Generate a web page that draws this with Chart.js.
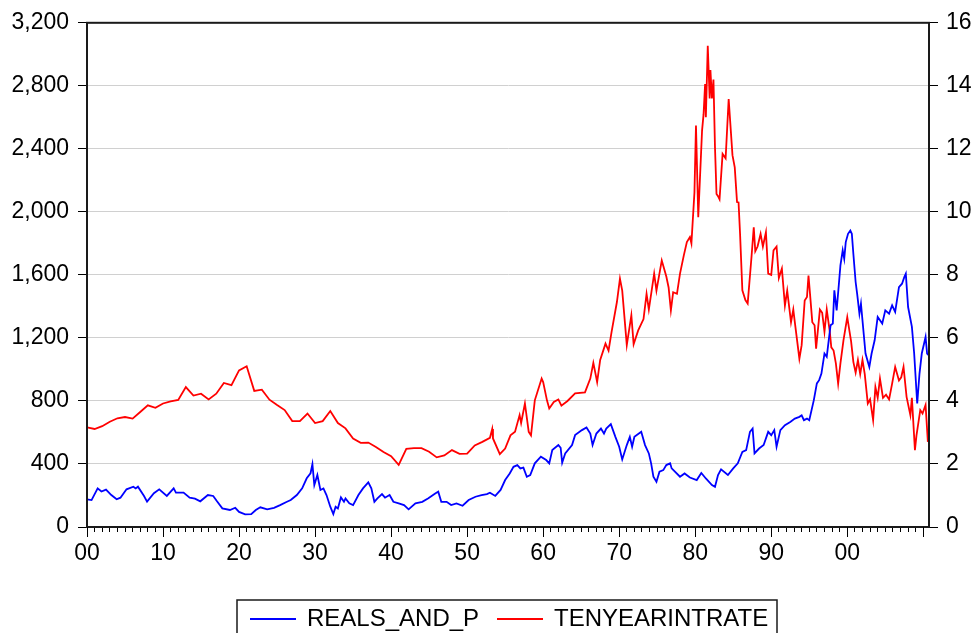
<!DOCTYPE html>
<html>
<head>
<meta charset="utf-8">
<title>REALS_AND_P and TENYEARINTRATE</title>
<script src="https://cdn.jsdelivr.net/npm/chart.js@4.4.1/dist/chart.umd.min.js"></script>
<style>
  body { margin: 0; background: #fff; }
</style>
</head>
<body>
<canvas id="myChart" width="975" height="633"></canvas>
<script>
// series (year as decimal)
var realYears = [1900.0, 1900.6, 1901.4, 1901.9, 1902.5, 1903.2, 1903.9, 1904.4, 1905.2, 1906.1, 1906.4, 1906.7, 1907.5, 1907.9, 1908.8, 1909.5,
  1910.5, 1911.4, 1911.7, 1912.7, 1913.5, 1914.2, 1914.9, 1915.9, 1916.6, 1917.1, 1917.8, 1918.8, 1919.5, 1920.0, 1920.8, 1921.6,
  1922.2, 1922.8, 1923.7, 1924.6, 1925.4, 1926.3, 1926.8, 1927.6, 1928.3, 1928.9, 1929.4, 1929.65, 1929.9, 1930.3, 1930.7, 1931.1,
  1931.5, 1932.0, 1932.4, 1932.7, 1933.0, 1933.4, 1933.8, 1934.0, 1934.5, 1935.0, 1935.7, 1936.3, 1937.0, 1937.4, 1937.8, 1938.2,
  1938.8, 1939.2, 1939.8, 1940.3, 1941.0, 1941.7, 1942.3, 1943.2, 1944.1, 1944.9, 1945.8, 1946.2, 1946.6, 1947.3, 1947.9, 1948.6,
  1949.4, 1950.2, 1951.1, 1951.9, 1952.6, 1953.0, 1953.7, 1954.4, 1955.0, 1955.6, 1956.1, 1956.6, 1957.0, 1957.4, 1957.85, 1958.3,
  1958.9, 1959.7, 1960.4, 1960.8, 1961.2, 1962.0, 1962.3, 1962.5, 1962.9, 1963.8, 1964.2, 1965.1, 1965.7, 1966.2, 1966.5, 1967.0,
  1967.6, 1968.0, 1968.3, 1968.9, 1969.5, 1970.0, 1970.4, 1971.0, 1971.4, 1971.7, 1972.0, 1972.9, 1973.4, 1973.9, 1974.2, 1974.5,
  1974.9, 1975.3, 1975.8, 1976.2, 1976.7, 1976.9, 1978.0, 1978.6, 1979.3, 1980.2, 1980.8, 1981.4, 1982.2, 1982.6, 1983.0, 1983.4,
  1984.3, 1985.0, 1985.6, 1986.2, 1986.7, 1987.2, 1987.55, 1987.8, 1988.4, 1989.0, 1989.6, 1990.0, 1990.4, 1990.7, 1991.2, 1991.8,
  1992.5, 1993.1, 1993.7, 1994.0, 1994.3, 1994.7, 1995.0, 1995.6, 1996.0, 1996.3, 1996.6, 1997.0, 1997.3, 1997.8, 1998.1, 1998.3,
  1998.6, 1998.9, 1999.1, 1999.4, 1999.6, 1999.8, 2000.1, 2000.4, 2000.6, 2000.8, 2001.1, 2001.3, 2001.6, 2001.8, 2002.4, 2002.9,
  2003.2, 2003.6, 2004.0, 2004.6, 2005.0, 2005.5, 2005.9, 2006.3, 2006.8, 2007.2, 2007.5, 2007.7, 2008.0, 2008.5, 2008.8, 2009.2,
  2009.5, 2009.8, 2010.3, 2010.5, 2010.7];
var realValues = [176, 171, 245, 225, 237, 203, 176, 186, 239, 256, 245, 256, 197, 161, 214, 239,
  197, 245, 218, 218, 186, 180, 163, 203, 197, 163, 118, 108, 122, 96, 80, 82,
  108, 125, 112, 122, 139, 160, 171, 203, 245, 309, 341, 399, 266, 330, 235, 245,
  203, 129, 82, 129, 118, 188, 160, 181, 150, 139, 203, 245, 283, 245, 160, 182,
  209, 186, 203, 160, 150, 139, 112, 150, 160, 182, 213, 224, 160, 160, 139, 150,
  135, 171, 192, 203, 209, 218, 197, 235, 298, 340, 382, 393, 372, 377, 319, 329,
  404, 446, 425, 404, 488, 520, 503, 408, 467, 520, 583, 615, 632, 593, 520, 593,
  625, 593, 625, 653, 572, 509, 429, 520, 572, 509, 572, 604, 520, 467, 404, 319,
  287, 351, 361, 393, 404, 372, 319, 340, 314, 298, 343, 308, 266, 255, 330, 366,
  330, 372, 404, 477, 488, 604, 625, 467, 498, 520, 604, 583, 615, 509, 615, 646,
  667, 688, 699, 709, 678, 688, 678, 805, 911, 932, 974, 1101, 1080, 1280, 1291, 1502,
  1375, 1544, 1660, 1756, 1702, 1808, 1861, 1882, 1861, 1734, 1555, 1480, 1354, 1417, 1101, 1016,
  1101, 1185, 1333, 1291, 1375, 1354, 1407, 1365, 1523, 1544, 1586, 1608, 1396, 1270, 1101, 784,
  974, 1101, 1206, 1101, 1090];

var rateYears = [1900, 1901, 1902, 1903, 1904, 1905, 1906, 1907, 1908, 1909, 1910, 1911, 1912, 1913, 1914, 1915,
  1916, 1917, 1918, 1919, 1920, 1921, 1922, 1923, 1924, 1925, 1926, 1927, 1928, 1929, 1930, 1931,
  1932, 1933, 1934, 1935, 1936, 1937, 1938, 1939, 1940, 1941, 1942, 1943, 1944, 1945, 1946, 1947,
  1948, 1949, 1950, 1951, 1952, 1953, 1953.3, 1953.4, 1954.3, 1955.0, 1955.7, 1956.3, 1956.9, 1957.1,
  1957.6, 1958.1, 1958.4, 1958.9, 1959.8, 1960.0, 1960.5, 1960.8, 1961.4, 1962.0, 1962.4, 1963.2, 1964.2, 1965.5,
  1966.2, 1966.6, 1967.1, 1967.5, 1968.2, 1968.6, 1969.0, 1969.7, 1970.1, 1970.4, 1971.0, 1971.6, 1971.9, 1972.5,
  1973.2, 1973.6, 1973.9, 1974.6, 1974.9, 1975.6, 1976.2, 1976.5, 1976.8, 1977.1, 1977.6, 1978.0, 1978.5, 1978.9,
  1979.3, 1979.5, 1979.9, 1980.1, 1980.4, 1980.9, 1981.1, 1981.3, 1981.4, 1981.65, 1981.9, 1982.0, 1982.2, 1982.4,
  1982.6, 1982.8, 1983.0, 1983.2, 1983.6, 1984.0, 1984.4, 1984.9, 1985.2, 1985.5, 1985.7, 1985.9, 1986.2, 1986.6,
  1986.9, 1987.4, 1987.7, 1987.9, 1988.2, 1988.6, 1988.9, 1989.3, 1989.6, 1990.0, 1990.3, 1990.7, 1991.0, 1991.4,
  1991.8, 1992.1, 1992.6, 1992.9, 1993.1, 1993.7, 1994.0, 1994.4, 1994.7, 1994.9, 1995.1, 1995.4, 1995.7, 1995.9,
  1996.4, 1996.7, 1997.0, 1997.3, 1997.7, 1997.9, 1998.2, 1998.5, 1998.8, 1999.1, 1999.5, 2000.0, 2000.3, 2000.5,
  2000.8, 2001.1, 2001.4, 2001.7, 2002.0, 2002.3, 2002.7, 2003.0, 2003.4, 2003.7, 2004.0, 2004.3, 2004.7, 2005.1,
  2005.5, 2005.9, 2006.3, 2006.8, 2007.1, 2007.4, 2007.8, 2008.3, 2008.5, 2008.9, 2009.1, 2009.6, 2009.9, 2010.3,
  2010.6];
var rateValues = [3.16, 3.11, 3.2, 3.34, 3.45, 3.49, 3.44, 3.65, 3.86, 3.78, 3.92, 3.99, 4.03, 4.44, 4.17, 4.23,
  4.05, 4.23, 4.57, 4.5, 4.97, 5.1, 4.32, 4.36, 4.04, 3.87, 3.71, 3.36, 3.36, 3.6, 3.3, 3.36,
  3.68, 3.3, 3.13, 2.81, 2.67, 2.68, 2.54, 2.38, 2.25, 1.97, 2.48, 2.5, 2.5, 2.39, 2.21, 2.27,
  2.44, 2.32, 2.33, 2.59, 2.7, 2.83, 3.11, 2.81, 2.31, 2.49, 2.91, 3.02, 3.55, 3.3,
  3.92, 3.02, 2.91, 4.02, 4.71, 4.6, 4.02, 3.76, 3.97, 4.05, 3.85, 4.0, 4.24, 4.27,
  4.71, 5.21, 4.6, 5.3, 5.82, 5.6, 6.19, 7.14, 7.88, 7.5, 5.77, 6.72, 5.8, 6.24,
  6.6, 7.4, 6.9, 8.04, 7.5, 8.46, 7.95, 7.6, 6.87, 7.45, 7.4, 8.04, 8.62, 9.04,
  9.2, 9.0, 10.62, 12.74, 9.83, 12.58, 13.1, 14.06, 13.0, 15.27, 13.6, 14.5, 13.6, 14.2,
  12.05, 10.57, 10.5, 10.4, 11.84, 11.7, 13.58, 11.8, 11.41, 10.31, 10.3, 9.3, 7.51, 7.2,
  7.09, 8.56, 9.51, 8.75, 8.9, 9.3, 8.9, 9.35, 8.04, 8.0, 8.78, 8.9, 7.9, 8.2,
  7.03, 7.5, 6.5, 6.9, 6.5, 5.34, 5.77, 7.19, 7.3, 7.98, 7.4, 6.5, 6.4, 5.66,
  6.9, 6.8, 6.2, 6.9, 6.2, 5.7, 5.6, 5.19, 4.55, 5.19, 5.92, 6.66, 6.2, 5.9,
  5.24, 4.9, 5.3, 4.85, 5.3, 4.85, 3.92, 4.05, 3.39, 4.44, 4.1, 4.71, 4.1, 4.2,
  4.05, 4.55, 5.08, 4.65, 4.75, 5.08, 4.13, 3.55, 4.1, 2.44, 2.9, 3.71, 3.6, 3.87,
  2.7];

var leftTicks = [0, 400, 800, 1200, 1600, 2000, 2400, 2800, 3200];
var rightTicks = [0, 2, 4, 6, 8, 10, 12, 14, 16];

function toPoints(xs, ys) {
    return xs.map((x, i) => ({x: x, y: ys[i]}));
}

// frame, longer decade ticks and boxed legend
const framePlugin = {
    id: 'frame',
    afterDraw(chart) {
        const ctx = chart.ctx;
        const a = chart.chartArea;
        const xs = chart.scales.x;
        ctx.save();
        ctx.strokeStyle = '#1a1a1a';
        ctx.lineWidth = 2;
        ctx.strokeRect(a.left, a.top, a.right - a.left, a.bottom - a.top);

        ctx.strokeStyle = '#000';
        ctx.lineWidth = 1;
        for (let yr = 1900; yr <= 2010; yr += 10) {
            const px = Math.round(xs.getPixelForValue(yr)) + 0.5;
            ctx.beginPath();
            ctx.moveTo(px, a.bottom);
            ctx.lineTo(px, a.bottom + 10);
            ctx.stroke();
        }

        // legend box
        ctx.lineWidth = 1.5;
        ctx.strokeStyle = '#1a1a1a';
        ctx.strokeRect(237, 600, 540, 45);
        const entries = [
            {x: 250, ds: chart.data.datasets[0]},
            {x: 497, ds: chart.data.datasets[1]}
        ];
        ctx.font = '24px "Liberation Sans", Arial, sans-serif';
        ctx.textBaseline = 'alphabetic';
        ctx.fillStyle = '#000';
        entries.forEach(e => {
            ctx.strokeStyle = e.ds.borderColor;
            ctx.lineWidth = 2;
            ctx.beginPath();
            ctx.moveTo(e.x, 619);
            ctx.lineTo(e.x + 46, 619);
            ctx.stroke();
            ctx.fillText(e.ds.label, e.x + 57, 626);
        });
        ctx.restore();
    }
};

const tickFont = {family: '"Liberation Sans", Arial, sans-serif', size: 23};

const ctx = document.getElementById('myChart').getContext('2d');
const myChart = new Chart(ctx, {
    type: 'line',
    data: {
        datasets: [{
            label: 'REALS_AND_P',
            data: toPoints(realYears, realValues),
            borderColor: '#0000ff',
            backgroundColor: '#0000ff',
            borderWidth: 1.8,
            pointRadius: 0,
            tension: 0,
            yAxisID: 'y'
        }, {
            label: 'TENYEARINTRATE',
            data: toPoints(rateYears, rateValues),
            borderColor: '#ff0000',
            backgroundColor: '#ff0000',
            borderWidth: 1.8,
            pointRadius: 0,
            tension: 0,
            yAxisID: 'y1'
        }]
    },
    options: {
        responsive: false,
        animation: false,
        layout: {padding: {top: 22, bottom: 0, left: 0, right: 0}},
        plugins: {
            legend: {display: false},
            tooltip: {enabled: false}
        },
        scales: {
            x: {
                type: 'linear',
                min: 1900,
                max: 2010.75,
                afterBuildTicks: s => { s.ticks = s.ticks.filter(t => Number.isInteger(t.value)); },
                afterFit: s => { s.height = 106; },
                ticks: {
                    stepSize: 1,
                    autoSkip: false,
                    maxRotation: 0,
                    minRotation: 0,
                    padding: 8,
                    color: '#000',
                    font: tickFont,
                    callback: v => (v % 10 === 0 ? String(v % 100).padStart(2, '0') : '')
                },
                grid: {drawOnChartArea: false, tickLength: 5, tickColor: '#000'},
                border: {color: '#1a1a1a', width: 2}
            },
            y: {
                position: 'left',
                min: 0,
                max: 3200,
                afterBuildTicks: s => { s.ticks = leftTicks.map(v => ({value: v})); },
                afterFit: s => { s.width = 87; },
                ticks: {
                    padding: 9,
                    color: '#000',
                    font: tickFont,
                    callback: v => v.toLocaleString('en-US')
                },
                grid: {color: '#d0d0d0', lineWidth: 1, tickLength: 9, tickColor: '#000'},
                border: {color: '#1a1a1a', width: 2}
            },
            y1: {
                position: 'right',
                min: 0,
                max: 16,
                afterBuildTicks: s => { s.ticks = rightTicks.map(v => ({value: v})); },
                afterFit: s => { s.width = 46; },
                ticks: {
                    padding: 8,
                    color: '#000',
                    font: tickFont
                },
                grid: {drawOnChartArea: false, tickLength: 9, tickColor: '#000'},
                border: {color: '#1a1a1a', width: 2}
            }
        }
    },
    plugins: [framePlugin]
});
</script>
</body>
</html>
